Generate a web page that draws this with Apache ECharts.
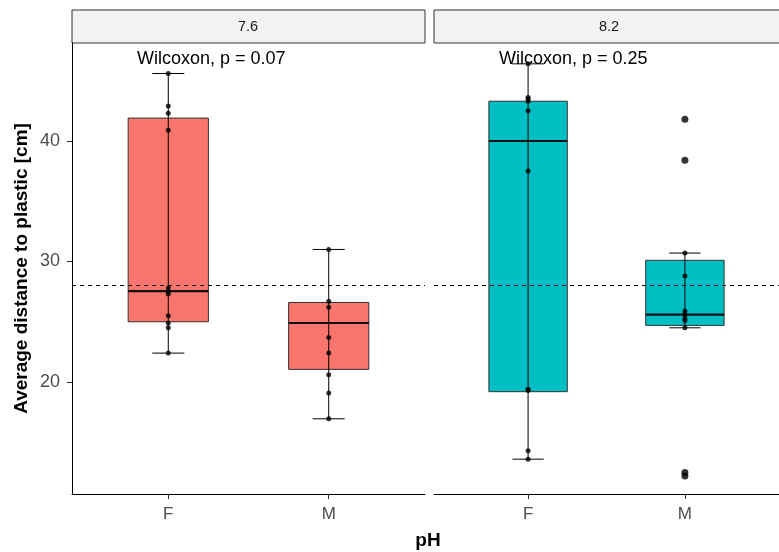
<!DOCTYPE html>
<html>
<head>
<meta charset="utf-8">
<script src="https://cdn.jsdelivr.net/npm/echarts@6/dist/echarts.min.js"></script>
<style>
  html, body { margin: 0; padding: 0; background: #fff; }
  #chart { width: 779px; height: 552px; }
</style>
</head>
<body>
<div id="chart"></div>
<script>
// facets (pH) and groups on the x axis
const facets = ['7.6', '8.2']
const groups = ['F', 'M']
const yTicks = [20, 30, 40]
const refLine = 28.0
const pLabels = ['Wilcoxon, p = 0.07', 'Wilcoxon, p = 0.25']

// box stats: [lower whisker, Q1, median, Q3, upper whisker] for F, M
const box76 = [[22.4, 25.0, 27.55, 41.9, 45.6], [16.95, 21.05, 24.9, 26.6, 31.0]]
const box82 = [[13.6, 19.2, 40.0, 43.3, 46.4], [24.5, 24.7, 25.6, 30.1, 30.7]]

// raw points
const pts76F = [45.6, 42.9, 42.3, 40.9, 27.8, 27.5, 27.3, 25.5, 24.9, 24.5, 22.4]
const pts76M = [31.0, 26.7, 26.2, 23.7, 22.4, 20.6, 19.1, 16.95]
const pts82F = [46.4, 43.6, 43.5, 43.3, 42.5, 37.5, 19.4, 19.3, 14.3, 13.6]
const pts82M = [30.7, 28.8, 25.9, 25.6, 25.3, 25.1, 24.5]
const out82M = [41.8, 38.4, 12.5, 12.2]

const fills = ['#F8766D', '#00BFC4']
const yMin = 10.71
const yMax = 48.13
const txt = '#4d4d4d'
const font = 'Liberation Sans, Arial, sans-serif'

const chart = echarts.init(document.getElementById('chart'))

const renderBox = (fill) => (params, api) => {
    const x = api.value(0)
    const lo = api.value(1), q1 = api.value(2), md = api.value(3), q3 = api.value(4), hi = api.value(5)
    const a = api.coord([x - 0.25, q3])
    const b = api.coord([x + 0.25, q1])
    const m1 = api.coord([x - 0.25, md])
    const m2 = api.coord([x + 0.25, md])
    const t = api.coord([x, hi])
    const bt = api.coord([x, lo])
    const cl = api.coord([x - 0.1, hi])[0]
    const cr = api.coord([x + 0.1, hi])[0]
    return {
        type: 'group',
        children: [
            { type: 'rect', shape: { x: a[0], y: a[1], width: b[0] - a[0], height: b[1] - a[1] },
              style: { fill: fill, stroke: '#333', lineWidth: 1 } },
            { type: 'line', shape: { x1: m1[0], y1: m1[1], x2: m2[0], y2: m2[1] },
              style: { stroke: '#111', lineWidth: 2.2 } },
            { type: 'line', shape: { x1: t[0], y1: t[1], x2: bt[0], y2: bt[1] },
              style: { stroke: '#000', lineWidth: 1 } },
            { type: 'line', shape: { x1: cl, y1: t[1], x2: cr, y2: t[1] },
              style: { stroke: '#000', lineWidth: 1 } },
            { type: 'line', shape: { x1: cl, y1: bt[1], x2: cr, y2: bt[1] },
              style: { stroke: '#000', lineWidth: 1 } }
        ]
    }
}

const xAxisFor = (i) => ({
    type: 'value', gridIndex: i, min: 0.4, max: 2.6,
    splitLine: { show: false },
    axisLine: { show: true, lineStyle: { color: '#000', width: 1 } },
    axisTick: { show: true, customValues: [1, 2], length: 5, lineStyle: { color: '#333' } },
    axisLabel: {
        show: true, customValues: [1, 2], margin: 12,
        color: txt, fontSize: 17, fontFamily: font,
        formatter: (v) => groups[Math.round(v) - 1]
    }
})

const yAxisFor = (i) => ({
    type: 'value', gridIndex: i, min: yMin, max: yMax,
    splitLine: { show: false },
    axisLine: { show: i === 0, lineStyle: { color: '#000', width: 1 } },
    axisTick: { show: i === 0, customValues: yTicks, length: 5, lineStyle: { color: '#333' } },
    axisLabel: { show: i === 0, customValues: yTicks, margin: 12, color: txt, fontSize: 18, fontFamily: font },
    name: i === 0 ? 'Average distance to plastic [cm]' : '',
    nameLocation: 'middle', nameRotate: 90, nameGap: 41,
    nameTextStyle: { color: '#000', fontSize: 19, fontWeight: 'bold', fontFamily: font }
})

const dashLine = {
    silent: true, symbol: ['none', 'none'], label: { show: false },
    lineStyle: { type: [4, 4], color: '#000', width: 1 },
    data: [{ yAxis: refLine }]
}

const boxSets = [box76, box82]
const ptSets = [[pts76F, pts76M], [pts82F, pts82M]]

const series = []
facets.forEach((f, i) => {
    series.push({
        type: 'custom', xAxisIndex: i, yAxisIndex: i, z: 2,
        renderItem: renderBox(fills[i]),
        data: boxSets[i].map((s, g) => [g + 1, ...s])
    })
    series.push({
        type: 'scatter', xAxisIndex: i, yAxisIndex: i, z: 3,
        symbolSize: 5, itemStyle: { color: '#000' },
        data: ptSets[i].flatMap((arr, g) => arr.map(v => [g + 1, v])),
        markLine: dashLine
    })
})
series.push({
    type: 'scatter', xAxisIndex: 1, yAxisIndex: 1, z: 3,
    symbolSize: 7, itemStyle: { color: '#000' },
    data: out82M.map(v => [2, v])
})

chart.setOption({
    animation: false,
    grid: [
        { left: 72, top: 43, width: 353, height: 451 },
        { left: 434, top: 43, width: 350, height: 451 }
    ],
    xAxis: [xAxisFor(0), xAxisFor(1)],
    yAxis: [yAxisFor(0), yAxisFor(1)],
    graphic: [
        { type: 'rect', shape: { x: 72, y: 10, width: 353, height: 33 },
          style: { fill: '#f2f2f2', stroke: '#333', lineWidth: 1 } },
        { type: 'rect', shape: { x: 434, y: 10, width: 350, height: 33 },
          style: { fill: '#f2f2f2', stroke: '#333', lineWidth: 1 } },
        { type: 'text', x: 248, y: 27, style: { text: facets[0], fill: '#1a1a1a', fontSize: 14.5, fontFamily: font, align: 'center', verticalAlign: 'middle' } },
        { type: 'text', x: 609, y: 27, style: { text: facets[1], fill: '#1a1a1a', fontSize: 14.5, fontFamily: font, align: 'center', verticalAlign: 'middle' } },
        { type: 'text', x: 137, y: 59, z: 10, style: { text: pLabels[0], fill: '#000', fontSize: 18, fontFamily: font, align: 'left', verticalAlign: 'middle' } },
        { type: 'text', x: 499, y: 59, z: 10, style: { text: pLabels[1], fill: '#000', fontSize: 18, fontFamily: font, align: 'left', verticalAlign: 'middle' } },
        { type: 'text', x: 428, y: 541, style: { text: 'pH', fill: '#000', fontSize: 19, fontWeight: 'bold', fontFamily: font, align: 'center', verticalAlign: 'middle' } }
    ],
    series: series
})
</script>
</body>
</html>
